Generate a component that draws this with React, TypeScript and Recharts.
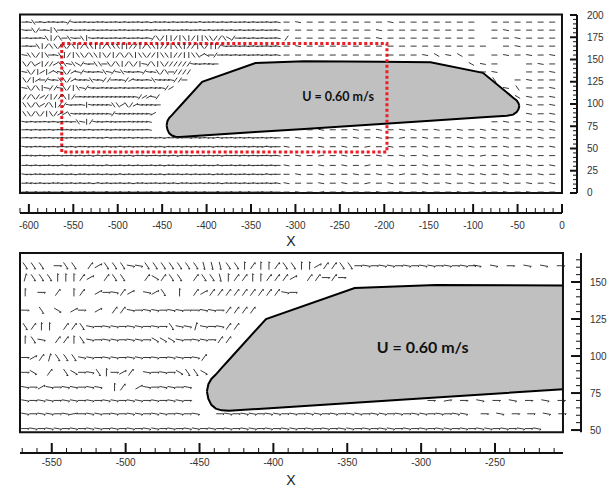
import React from "react";
import {
  ComposedChart,
  XAxis,
  YAxis,
  Scatter,
  Area,
  ReferenceArea,
  ReferenceLine,
  ReferenceDot,
  Label,
} from "recharts";

// hull outline: lower and upper edge at each x station
const hullX = [-445, -444, -442, -439, -435, -430, -405, -345, -290, -204, -148, -89, -62, -55, -51, -49, -48];
const hullLow = [76, 71, 67, 64.5, 63.3, 63, 64.6, 68.5, 72, 77.6, 81.2, 85, 86.8, 88, 91, 94, 98];
const hullHigh = [76, 81, 84.5, 87.5, 92, 97.5, 125, 146, 148, 147.6, 147, 135, 113, 107, 104, 101, 98];

// tick labels
const topXLabels = [-600, -550, -500, -450, -400, -350, -300, -250, -200, -150, -100, -50, 0];
const topYLabels = [0, 25, 50, 75, 100, 125, 150, 175, 200];
const bottomXLabels = [-550, -500, -450, -400, -350, -300, -250];
const bottomYLabels = [50, 75, 100, 125, 150];

// vector directions (degrees) by glyph
const glyphAngle: Record<string, number> = {
  "-": 0,
  "~": -10,
  "=": 10,
  "<": 30,
  ">": -30,
  "/": 55,
  "\\": -55,
  "!": 75,
  j: -75,
  "|": 90,
};

type Run = [number, number, string];
type Row = [number, Run[]];

const waveA = "-~-~--~-=~-~--~-~-=~--~-~-~--~-~=-~--~-~-~-=~--~-~-~--~-~-";
const waveB = "~-=-~--~-~-~=-~--~-~-=~-~--~-~-~=--~-~-~--~=-~-~--~-~-=~--";
const waveC = "-~~-~-=-~--~-~-~=~-~--~-~=-~--~-~-~=-~--~-~-~=--~-~-~--~-~";
const sparseA = "-~-~--~-~-=-~--~-~-~--~-";
const sparseB = "~--~-~-=-~--~-~-~--~-~-~";
const sparseC = "-~-=-~--~-~-~--~-=-~-~--";

// full field, rows of [y, runs of [x start, x step, directions]]
const topRows: Row[] = [
  [192, [[-605, 5, String.raw`-~\-~=-~-~/~--~-=-~--~-~--~-~=--~-~--~-=~--~-~-~--~-~--~-~`], [-310, 13, "-~-------~-------"], [-76, 13, "------"]]],
  [183, [[-605, 5, String.raw`~-\/-~|\-~-~--~-~--~-=-~--~-~-~--~-=-~--~-~--~-~-~--~-~--~`], [-310, 13, "--------~--------"], [-76, 13, "-~----"]]],
  [174, [[-605, 5, String.raw`-~--~\|/\-\~-\|~-~~--~-~--~-~/\/||/|\|/||\\//\>/--~-~-~--~`], [-310, 13, "/-------~--------"], [-76, 13, "--~---"]]],
  [165, [[-605, 5, String.raw`-~-\|/\\/\/\|/\\||/\\\||//|/\\|//|\\|//|\/||/~--~-~-~--~-~`], [-310, 13, "-~----------------"], [-63, 13, "-~---"]]],
  [155, [[-605, 5, String.raw`~\\/|\-~\|/|\\/\\|\/|/\/\|\\//|\\|//||\\<>-/--~-~-~--~-~-~`], [-310, 13, "------------~>~>-"], [-76, 13, "-~-~-~"]]],
  [145, [[-605, 5, String.raw`\/\<|//<\\~\>/~-\\-\/\|/\/|~/\|\//////~~-~~-`], [-102, 13, ">~-"], [-37, 13, "-~-"]]],
  [136, [[-605, 5, String.raw`~\/|<|<>~\/<~/~~-~\~/~\~~-~/~~\/\-////`], [-89, 13, "-~"], [-37, 13, "--~"]]],
  [127, [[-605, 5, String.raw`\/|<-/~~\\/<~~~\~~//-~~/<~~-~\~~~~//-`], [-76, 13, String.raw`\ -~--`]]],
  [118, [[-605, 5, String.raw`~\/\|~//~\/|\~/~~-~~~-~~--~~-~~~/<`], [-63, 13, String.raw`~\--~`]]],
  [108, [[-605, 5, String.raw`//\/</|//\|/-~~~~~~~~~~~~~/<<~/`], [-50, 13, ">~-~"]]],
  [99, [[-605, 5, String.raw`\\/\</\|//~--~|~~~~~\\<\/<~~~~-`], [-37, 13, "~-~"]]],
  [89, [[-605, 5, String.raw`\\/\/|\/<<\~~~~~~~~~/~~~~~~~~<`], [-37, 13, "~-~"]]],
  [80, [[-605, 5, String.raw`~-~--~-~=-~-\~|/~~-~~---~~~~~`], [-76, 13, "-~-~-~"]]],
  [71, [[-605, 5, "-~-~--~-~-~~-~-~--~~-~~~~---~"], [-297, 13, "~-~--~-~-~~-~-~-~~-~-~~"]]],
  [62, [[-605, 5, waveA], [-310, 13, sparseA]]],
  [52, [[-605, 5, waveB], [-310, 13, sparseB]]],
  [42, [[-605, 5, waveC], [-310, 13, sparseC]]],
  [31, [[-605, 5, waveA], [-310, 13, sparseB]]],
  [21, [[-605, 5, waveB], [-310, 13, sparseA]]],
  [11, [[-605, 5, waveC], [-310, 13, sparseB]]],
  [1, [[-605, 5, waveA], [-310, 13, sparseC]]],
];

// close-up of the wake region
const bottomRows: Row[] = [
  [161, [[-568, 5.5, String.raw`\\\ -\\ /<\\\~~\\\\\\\jjj\\|/||/\\||<//\\-~-~~-~-~~-~-~-`], [-262, 11.3, "~~-~~-"]]],
  [153, [[-568, 5.5, String.raw`!\\\|||/< /\\  />/\\ /\\j|//||///< //-/-`]]],
  [143, [[-568, 5.5, String.raw`| - / |/ <-~/< ~<\ | /</////////~-`]]],
  [131, [[-568, 5.5, String.raw`- \ > <- < //~-~~-~~--~~-////`]]],
  [120, [[-568, 5.5, String.raw`\/|| //\~-~~-~~-~-\~~!~-~//`]]],
  [111, [[-568, 5.5, String.raw`|\~ //|\~-~~-~~->>>~-~~-//`]]],
  [99, [[-568, 5.5, String.raw`-</!\\\~~-~~-~~-~-~~-~/`]]],
  [89, [[-568, 5.5, String.raw`-> / \>-~\|-</ ~-~->\\>`]]],
  [79, [[-568, 5.5, "~-<~-~~-~~ |/ <~-~~-~"]]],
  [70, [[-568, 5.5, "~-~~-~~-~-~~-~~-~-~~-"], [-293, 11, "-=-~-~-~-"]]],
  [61, [[-568, 5.5, "~-~~-~=-~~-~-~~-~~-~-~"], [-436, 5.5, "-~-~~-~~-~-~~-~-~~-~~-~-~~-~-~~"], [-257, 10.5, "-~--~-"]]],
  [51, [[-568, 5.5, "-~-~~-~-~~-~-~-~~-~-~~-~-~-~~-~-~~-~-~-~~-~-~~-~-~-~~-~-~~-~-~-~"]]],
];

const hullData = hullX.map((x, i) => ({ x, band: [hullLow[i], hullHigh[i]] }));

const insideHull = (x: number, y: number) => {
  for (let i = 0; i < hullX.length - 1; i++) {
    if (x >= hullX[i] && x <= hullX[i + 1]) {
      const t = (x - hullX[i]) / (hullX[i + 1] - hullX[i]);
      const lo = hullLow[i] + t * (hullLow[i + 1] - hullLow[i]);
      const hi = hullHigh[i] + t * (hullHigh[i + 1] - hullHigh[i]);
      return y > lo - 1 && y < hi + 1;
    }
  }
  return false;
};

const buildVectors = (rows: Row[], x0: number, x1: number, y0: number, y1: number) => {
  const out: { x: number; y: number; a: number }[] = [];
  rows.forEach(([y, runs]) =>
    runs.forEach(([start, step, glyphs]) => {
      [...glyphs].forEach((g, i) => {
        const a = glyphAngle[g];
        if (a === undefined) return;
        const x = start + i * step;
        if (x < x0 || x > x1 || y < y0 || y > y1 || insideHull(x, y)) return;
        out.push({ x, y, a });
      });
    })
  );
  return out;
};

const topVectors = buildVectors(topRows, -610, 0, 0, 200);
const bottomVectors = buildVectors(bottomRows, -571.5, -204, 48.6, 169.6);

const withMinor = (from: number, to: number, step: number) => {
  const t: number[] = [];
  for (let v = from; v <= to; v += step) t.push(v);
  return t;
};

const topXTicks = withMinor(-610, 0, 10);
const topYTicks = withMinor(0, 200, 5);
const bottomXTicks = withMinor(-570, -210, 10);
const bottomYTicks = withMinor(50, 165, 5);

const axisFont = "'Liberation Sans', Arial, sans-serif";

// plain segment per vector, with an optional small hook at the leading end
const vectorShape = (len: number, hook: number) => (props: any) => {
  const { cx, cy, payload } = props;
  const a = (payload.a * Math.PI) / 180;
  const hx = (Math.cos(a) * len) / 2;
  const hy = (Math.sin(a) * len) / 2;
  const tx = cx + hx;
  const ty = cy - hy;
  const b = a - Math.PI * 0.75;
  return (
    <g stroke="#222" strokeWidth={0.9} fill="none">
      <line x1={cx - hx} y1={cy + hy} x2={tx} y2={ty} />
      {hook > 0 && <line x1={tx} y1={ty} x2={tx + Math.cos(b) * hook} y2={ty - Math.sin(b) * hook} />}
    </g>
  );
};

const xTick = (labels: number[], major: number, minor: number, dy: number) => (props: any) => {
  const { x, y, payload } = props;
  const isMajor = labels.includes(payload.value);
  return (
    <g>
      <line x1={x} x2={x} y1={y} y2={y - (isMajor ? major : minor)} stroke="#111" strokeWidth={isMajor ? 2 : 1} />
      {isMajor && (
        <text x={x} y={y + dy} textAnchor="middle" fontSize={10} fill="#333" fontFamily={axisFont}>
          {payload.value}
        </text>
      )}
    </g>
  );
};

const yTick = (labels: number[], major: number, minor: number, gap: number) => (props: any) => {
  const { x, y, payload } = props;
  const isMajor = labels.includes(payload.value);
  return (
    <g>
      <line x1={x - (isMajor ? major : minor)} x2={x} y1={y} y2={y} stroke="#111" strokeWidth={isMajor ? 2 : 1} />
      {isMajor && (
        <text x={x + gap} y={y + 3.5} fontSize={10} fill="#333" fontFamily={axisFont}>
          {payload.value}
        </text>
      )}
    </g>
  );
};

function TopPanel() {
  return (
    <ComposedChart width={615} height={250} margin={{ top: 15, right: 8, bottom: 17, left: 20 }}>
      <XAxis
        type="number"
        dataKey="x"
        domain={[-610, 16.9]}
        allowDataOverflow
        ticks={topXTicks}
        interval={0}
        axisLine={false}
        tickLine={false}
        tickSize={0}
        tickMargin={0}
        height={20}
        tick={xTick(topXLabels, 9, 5, 16)}
      >
        <Label value="X" position={{ x: 271, y: 33 }} textAnchor="middle" fontSize={14} fill="#222" fontFamily={axisFont} />
      </XAxis>
      <YAxis
        type="number"
        dataKey="y"
        orientation="right"
        domain={[-22.5, 200]}
        allowDataOverflow
        ticks={topYTicks}
        interval={0}
        axisLine={false}
        tickLine={false}
        tickSize={0}
        tickMargin={0}
        width={30}
        tick={yTick(topYLabels, 7, 4, 10)}
      />
      <Scatter data={topVectors} shape={vectorShape(6, 0)} isAnimationActive={false} />
      <Area
        data={hullData}
        dataKey="band"
        type="linear"
        stroke="#000"
        strokeWidth={2}
        fill="#c0c0c0"
        fillOpacity={1}
        dot={false}
        activeDot={false}
        isAnimationActive={false}
      />
      <ReferenceArea x1={-610} x2={0} y1={0} y2={200.5} fill="none" stroke="#111" strokeWidth={2} ifOverflow="visible" />
      <ReferenceArea
        x1={-563}
        x2={-197}
        y1={46}
        y2={168}
        fill="none"
        stroke="#ee1c24"
        strokeWidth={3}
        strokeDasharray="3 2.5"
        ifOverflow="visible"
      />
      <ReferenceLine segment={[{ x: -610, y: -22.5 }, { x: 0, y: -22.5 }]} stroke="#111" strokeWidth={2} ifOverflow="visible" />
      <ReferenceLine segment={[{ x: 16.9, y: 0 }, { x: 16.9, y: 200 }]} stroke="#111" strokeWidth={2} ifOverflow="visible" />
      <ReferenceDot
        x={-252}
        y={108}
        r={0}
        fill="none"
        stroke="none"
        label={{ value: "U = 0.60 m/s", position: "center", fontSize: 12.5, fontWeight: 700, fill: "#111", fontFamily: "Lato, 'Open Sans', sans-serif" }}
      />
    </ComposedChart>
  );
}

function BottomPanel() {
  return (
    <ComposedChart width={615} height={242} margin={{ top: 8, right: 4, bottom: 14, left: 20 }}>
      <XAxis
        type="number"
        dataKey="x"
        domain={[-571.5, -191.8]}
        allowDataOverflow
        ticks={bottomXTicks}
        interval={0}
        axisLine={false}
        tickLine={false}
        tickSize={0}
        tickMargin={0}
        height={20}
        tick={xTick(bottomXLabels, 10, 5, 13)}
      >
        <Label value="X" position={{ x: 271, y: 32 }} textAnchor="middle" fontSize={14} fill="#222" fontFamily={axisFont} />
      </XAxis>
      <YAxis
        type="number"
        dataKey="y"
        orientation="right"
        domain={[34.5, 169.6]}
        allowDataOverflow
        ticks={bottomYTicks}
        interval={0}
        axisLine={false}
        tickLine={false}
        tickSize={0}
        tickMargin={0}
        width={30}
        tick={yTick(bottomYLabels, 10, 5, 9)}
      />
      <Scatter data={bottomVectors} shape={vectorShape(8, 1.8)} isAnimationActive={false} />
      <Area
        data={hullData.filter((d) => d.x <= -204)}
        dataKey="band"
        type="linear"
        stroke="#000"
        strokeWidth={2}
        fill="#c0c0c0"
        fillOpacity={1}
        dot={false}
        activeDot={false}
        isAnimationActive={false}
      />
      <ReferenceArea x1={-571.5} x2={-204} y1={48.6} y2={169.6} fill="none" stroke="#111" strokeWidth={2} ifOverflow="visible" />
      <ReferenceLine segment={[{ x: -571.5, y: 34.5 }, { x: -204, y: 34.5 }]} stroke="#111" strokeWidth={2} ifOverflow="visible" />
      <ReferenceLine segment={[{ x: -191.8, y: 48.6 }, { x: -191.8, y: 169.6 }]} stroke="#111" strokeWidth={2} ifOverflow="visible" />
      <ReferenceDot
        x={-299}
        y={106}
        r={0}
        fill="none"
        stroke="none"
        label={{ value: "U = 0.60 m/s", position: "center", fontSize: 16, fontWeight: 700, fill: "#111", fontFamily: "Lato, 'Open Sans', sans-serif" }}
      />
    </ComposedChart>
  );
}

export default function App() {
  return (
    <div style={{ position: "absolute", left: 0, top: 0, width: 615, height: 487, background: "#fff" }}>
      <div style={{ position: "absolute", left: 0, top: 0 }}>
        <TopPanel />
      </div>
      <div style={{ position: "absolute", left: 0, top: 245 }}>
        <BottomPanel />
      </div>
    </div>
  );
}
